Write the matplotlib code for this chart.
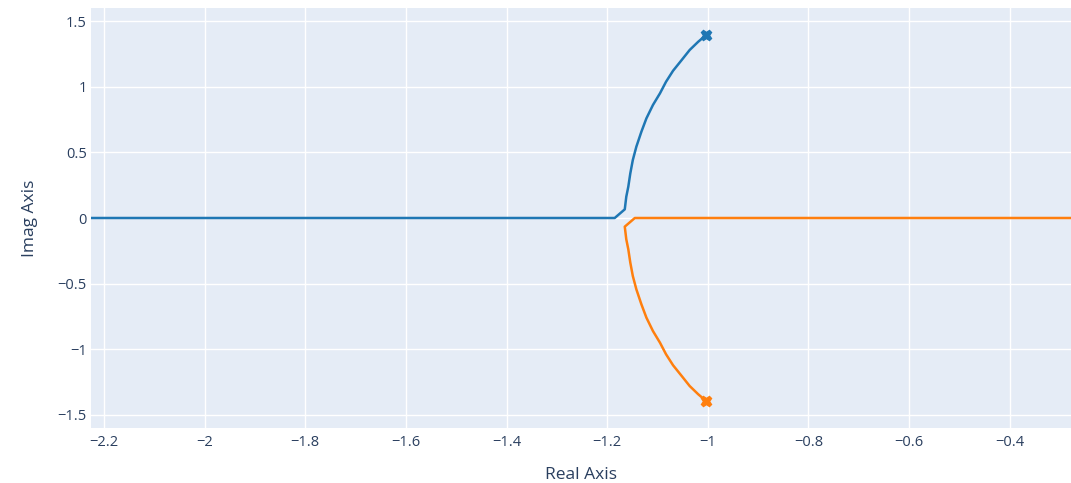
import numpy as np
import matplotlib.pyplot as plt

# root locus branches (real part, imag part)
re_upper = [-1.003, -1.019, -1.036, -1.052, -1.069, -1.083, -1.095, -1.109, -1.122,
            -1.132, -1.142, -1.149, -1.154, -1.158, -1.162, -1.165, -1.185, -2.400]
im_upper = [1.395, 1.343, 1.280, 1.203, 1.122, 1.038, 0.950, 0.861, 0.759,
            0.657, 0.543, 0.442, 0.340, 0.238, 0.162, 0.066, 0.0, 0.0]

re_lower = [-1.003, -1.019, -1.036, -1.052, -1.069, -1.083, -1.095, -1.109, -1.122,
            -1.132, -1.142, -1.149, -1.154, -1.158, -1.162, -1.165, -1.145, -0.100]
im_lower = [-1.395, -1.343, -1.280, -1.203, -1.122, -1.038, -0.950, -0.861, -0.759,
            -0.657, -0.543, -0.442, -0.340, -0.238, -0.162, -0.066, 0.0, 0.0]

pole_re = [-1.003, -1.003]
pole_im = [1.395, -1.395]

xticks = [-2.2, -2.0, -1.8, -1.6, -1.4, -1.2, -1.0, -0.8, -0.6, -0.4]
yticks = [-1.5, -1.0, -0.5, 0.0, 0.5, 1.0, 1.5]

blue = '#1f77b4'
orange = '#ff7f0e'
txt = '#2a3f5f'

plt.rcParams['font.family'] = ['Open Sans', 'DejaVu Sans']

fig = plt.figure(figsize=(10.71, 4.83), dpi=100)
ax = fig.add_axes([91/1071, 1 - 428/483, 980/1071, 420/483])
ax.set_facecolor('#E5ECF6')

ax.plot(re_upper, im_upper, color=blue, lw=1.8, solid_joinstyle='round', zorder=3)
ax.plot(re_lower, im_lower, color=orange, lw=1.8, solid_joinstyle='round', zorder=3)
ax.plot(pole_re[0], pole_im[0], 'X', color=blue, ms=7.5, mec=blue, zorder=4)
ax.plot(pole_re[1], pole_im[1], 'X', color=orange, ms=7.5, mec=orange, zorder=4)

ax.set_xlim(-2.226, -0.278)
ax.set_ylim(-1.6, 1.6)
ax.set_xticks(xticks)
ax.set_yticks(yticks)
fmt = lambda v: ('%g' % v).replace('-', '\u2212')
ax.set_xticklabels([fmt(v) for v in xticks])
ax.set_yticklabels([fmt(v) for v in yticks])

ax.grid(color='white', lw=1)
ax.set_axisbelow(True)
for s in ax.spines.values():
    s.set_visible(False)
ax.tick_params(axis='x', length=0, labelsize=10.5, colors=txt, pad=5)
ax.tick_params(axis='y', length=0, labelsize=10.5, colors=txt, pad=3)

ax.set_xlabel('Real Axis', fontsize=12.5, color=txt, labelpad=12)
ax.set_ylabel('Imag Axis', fontsize=12.5, color=txt, labelpad=14)

fig.savefig('out.png', dpi=100, facecolor='white')
